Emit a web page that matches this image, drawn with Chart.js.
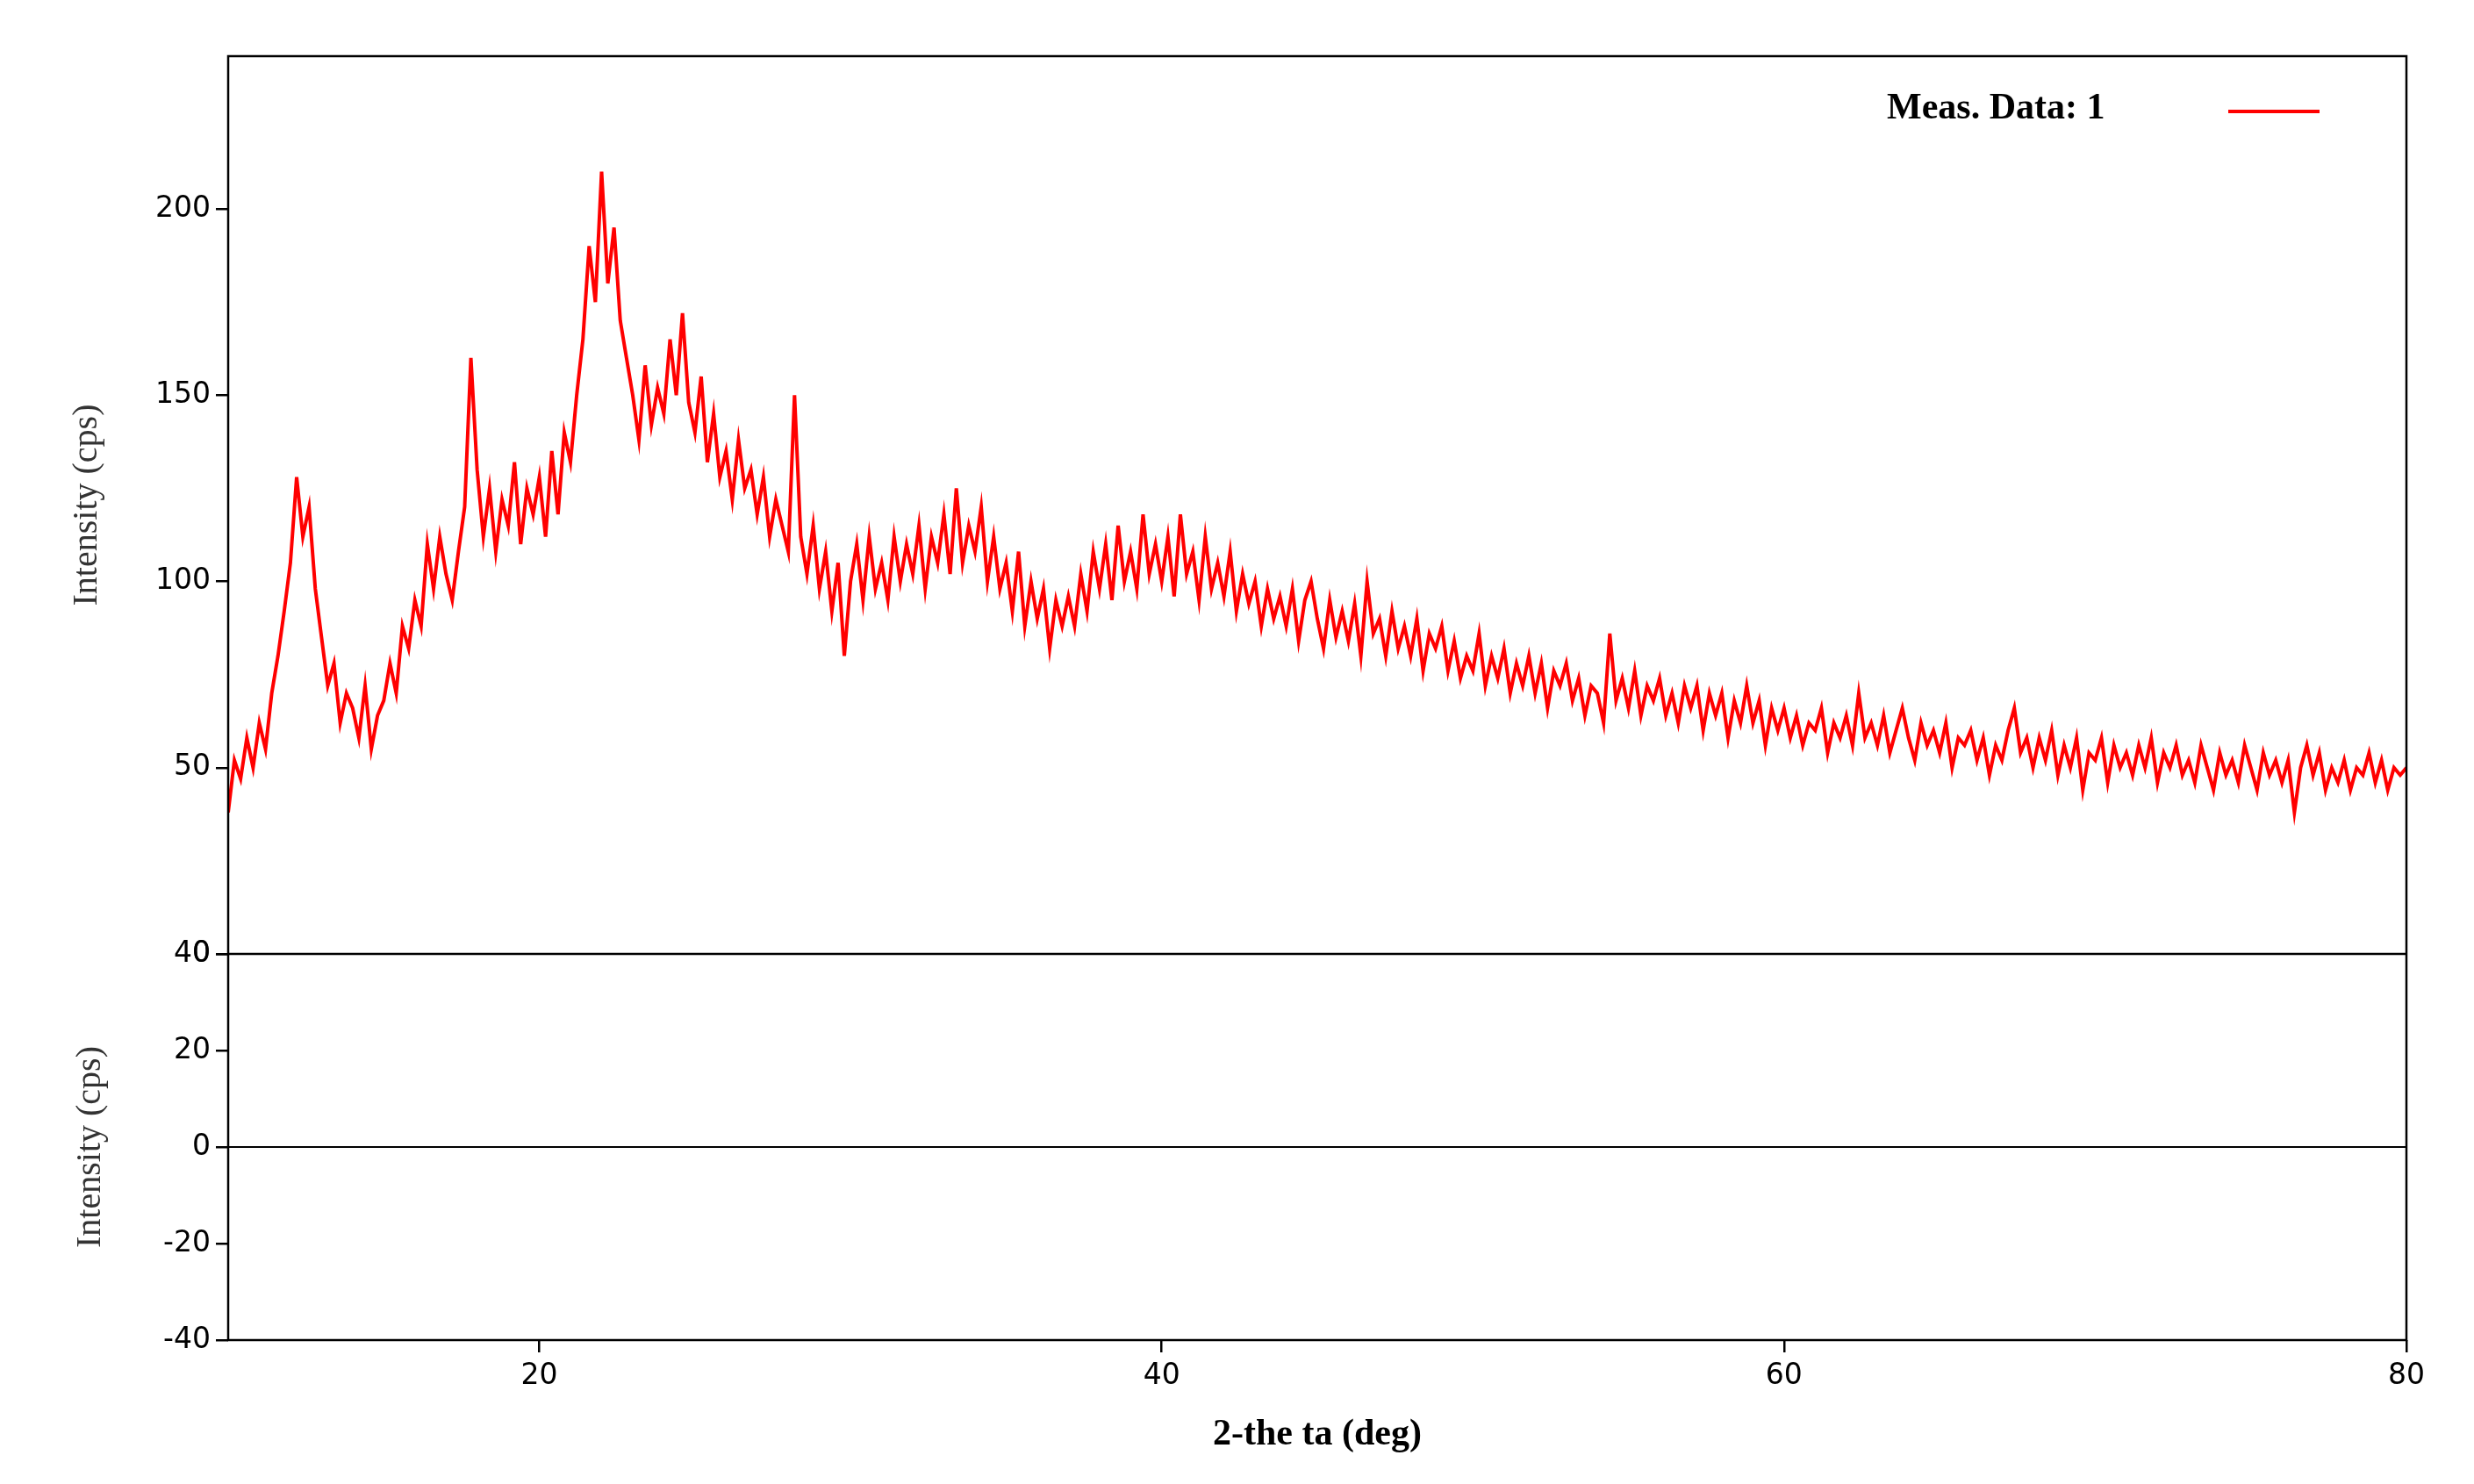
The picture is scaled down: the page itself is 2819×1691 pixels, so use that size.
<!DOCTYPE html>
<html>
<head>
  <meta charset="UTF-8">
  <title>XRD pattern</title>
  <script src="https://cdn.jsdelivr.net/npm/chart.js"></script>
  <style>
    html, body { margin: 0; padding: 0; background: #fff; }
    #wrap { width: 2819px; height: 1691px; }
  </style>
</head>
<body>
  <div id="wrap"><canvas id="plot"></canvas></div>

  <script>
    // measurement grid: 10 to 80 deg, 0.2 deg step
    const startAngle = 10;
    const stepAngle = 0.2;

    // intensity (cps), 5 points per degree
    const intensity = [
      38, 52, 47, 58, 50,   62, 55, 70, 80, 92,   105, 128, 112, 120, 98,
      85, 72, 78, 62, 70,   66, 58, 72, 55, 64,   68, 78, 70, 88, 82,
      95, 88, 110, 98, 112, 102, 95, 108, 120, 160, 130, 112, 125, 108, 122,
      115, 132, 110, 125, 118, 128, 112, 135, 118, 140, 132, 150, 165, 190, 175,
      210, 180, 195, 170, 160, 150, 138, 158, 142, 152, 145, 165, 150, 172, 148,
      140, 155, 132, 145, 128, 135, 122, 138, 125, 130, 118, 128, 112, 122, 115,
      108, 150, 112, 102, 115, 98, 108, 92, 105, 80, 100, 110, 95, 112, 98,
      105, 95, 112, 100, 110, 102, 115, 98, 112, 105, 118, 102, 125, 105, 115,
      108, 120, 100, 112, 98, 105, 92, 108, 88, 100, 90, 98, 82, 95, 88,
      96, 88, 102, 92, 108, 98, 110, 95, 115, 100, 108, 98, 118, 102, 110,
      100, 112, 96, 118, 102, 108, 95, 112, 98, 105, 96, 108, 92, 102, 94,
      100, 88, 98, 90, 96, 88, 98, 84, 95, 100, 90, 82, 95, 85, 92,
      84, 94, 80, 100, 86, 90, 80, 92, 82, 88, 80, 90, 76, 86, 82,
      88, 76, 84, 74, 80, 76, 86, 72, 80, 74, 82, 70, 78, 72, 80,
      70, 78, 66, 76, 72, 78, 68, 74, 64, 72, 70, 62, 86, 68, 74,
      66, 76, 64, 72, 68, 74, 64, 70, 62, 72, 66, 72, 60, 70, 64,
      70, 58, 68, 62, 72, 62, 68, 56, 66, 60, 66, 58, 64, 56, 62,
      60, 66, 54, 62, 58, 64, 56, 70, 58, 62, 56, 64, 54, 60, 66,
      58, 52, 62, 56, 60, 54, 62, 50, 58, 56, 60, 52, 58, 48, 56,
      52, 60, 66, 54, 58, 50, 58, 52, 60, 48, 56, 50, 58, 44, 54,
      52, 58, 46, 56, 50, 54, 48, 56, 50, 58, 46, 54, 50, 56, 48,
      52, 46, 56, 50, 44, 54, 48, 52, 46, 56, 50, 44, 54, 48, 52,
      46, 52, 38, 50, 56, 48, 54, 44, 50, 46, 52, 44, 50, 48, 54,
      46, 52, 44, 50, 48, 50
    ];

    // difference panel: flat zero line across the range
    const diffAngles = [10, 80];
    const diffValues = [0, 0];

    const xTicks = [20, 40, 60, 80];
    const yTopTicks = [0, 50, 100, 150, 200];
    const yBotTicks = [-40, -20, 0, 20, 40];

    const meas = intensity.map((v, i) => ({ x: +(startAngle + i * stepAngle).toFixed(2), y: v }));
    const diff = diffAngles.map((a, i) => ({ x: a, y: diffValues[i] }));

    const tickFont = { family: 'DejaVu Sans', size: 33 };
    const titleFont = { family: 'Liberation Serif', size: 40 };

    const frame = {
      id: 'frame',
      afterDraw(chart) {
        const ctx = chart.ctx, a = chart.chartArea;
        const split = chart.scales.yTop.bottom;
        ctx.save();
        ctx.strokeStyle = '#000';
        ctx.lineWidth = 2.5;
        ctx.strokeRect(a.left, a.top, a.right - a.left, a.bottom - a.top);
        ctx.beginPath();
        ctx.moveTo(a.left, split);
        ctx.lineTo(a.right, split);
        ctx.stroke();
        // legend
        ctx.fillStyle = '#000';
        ctx.font = 'bold 42px "Liberation Serif"';
        ctx.textBaseline = 'middle';
        ctx.fillText('Meas. Data: 1', 2150, 124);
        ctx.strokeStyle = '#ff0000';
        ctx.lineWidth = 4;
        ctx.beginPath();
        ctx.moveTo(2539, 127);
        ctx.lineTo(2643, 127);
        ctx.stroke();
        ctx.restore();
      }
    };

    function keep(list) {
      return scale => { scale.ticks = list.map(v => ({ value: v })); };
    }

    new Chart(document.getElementById('plot'), {
      type: 'line',
      data: {
        datasets: [
          { data: meas, yAxisID: 'yTop', borderColor: '#ff0000', borderWidth: 4,
            pointRadius: 0, tension: 0 },
          { data: diff, yAxisID: 'yBot', borderColor: '#000', borderWidth: 2,
            pointRadius: 0 }
        ]
      },
      options: {
        responsive: true,
        maintainAspectRatio: false,
        animation: false,
        layout: { padding: { top: 64, right: 77, left: 0, bottom: 0 } },
        plugins: { legend: { display: false }, tooltip: { enabled: false } },
        scales: {
          x: {
            type: 'linear', min: 10, max: 80,
            afterBuildTicks: keep(xTicks),
            afterFit: s => { s.height = 164; },
            border: { display: false },
            grid: { drawOnChartArea: false, tickLength: 14, color: '#000', lineWidth: 2.5 },
            ticks: { font: tickFont, color: '#000', maxRotation: 0, padding: 8 },
            title: { display: true, text: '2-the ta (deg)', color: '#000',
              font: { family: 'Liberation Serif', size: 42, weight: 'bold' },
              padding: { top: 0, bottom: 31 } }
          },
          yBot: {
            type: 'linear', position: 'left', stack: 'v', stackWeight: 440,
            min: -40, max: 40,
            afterBuildTicks: keep(yBotTicks),
            afterFit: s => { s.width = 260; },
            border: { display: false },
            grid: { drawOnChartArea: false, tickLength: 14, color: '#000', lineWidth: 2.5 },
            ticks: { font: tickFont, color: '#000', padding: 6 },
            title: { display: true, text: 'Intensity (cps)', color: '#333', font: titleFont,
              padding: { top: 79, bottom: 0 } }
          },
          yTop: {
            type: 'linear', position: 'left', stack: 'v', stackWeight: 1023,
            min: 0, max: 241,
            afterBuildTicks: keep(yTopTicks),
            afterFit: s => { s.width = 260; },
            border: { display: false },
            grid: { drawOnChartArea: false, tickLength: 14, color: '#000', lineWidth: 2.5 },
            ticks: { font: tickFont, color: '#000', padding: 6 },
            title: { display: true, text: 'Intensity (cps)', color: '#333', font: titleFont,
              padding: { top: 75, bottom: 0 } }
          }
        }
      },
      plugins: [frame]
    });
  </script>
</body>
</html>
